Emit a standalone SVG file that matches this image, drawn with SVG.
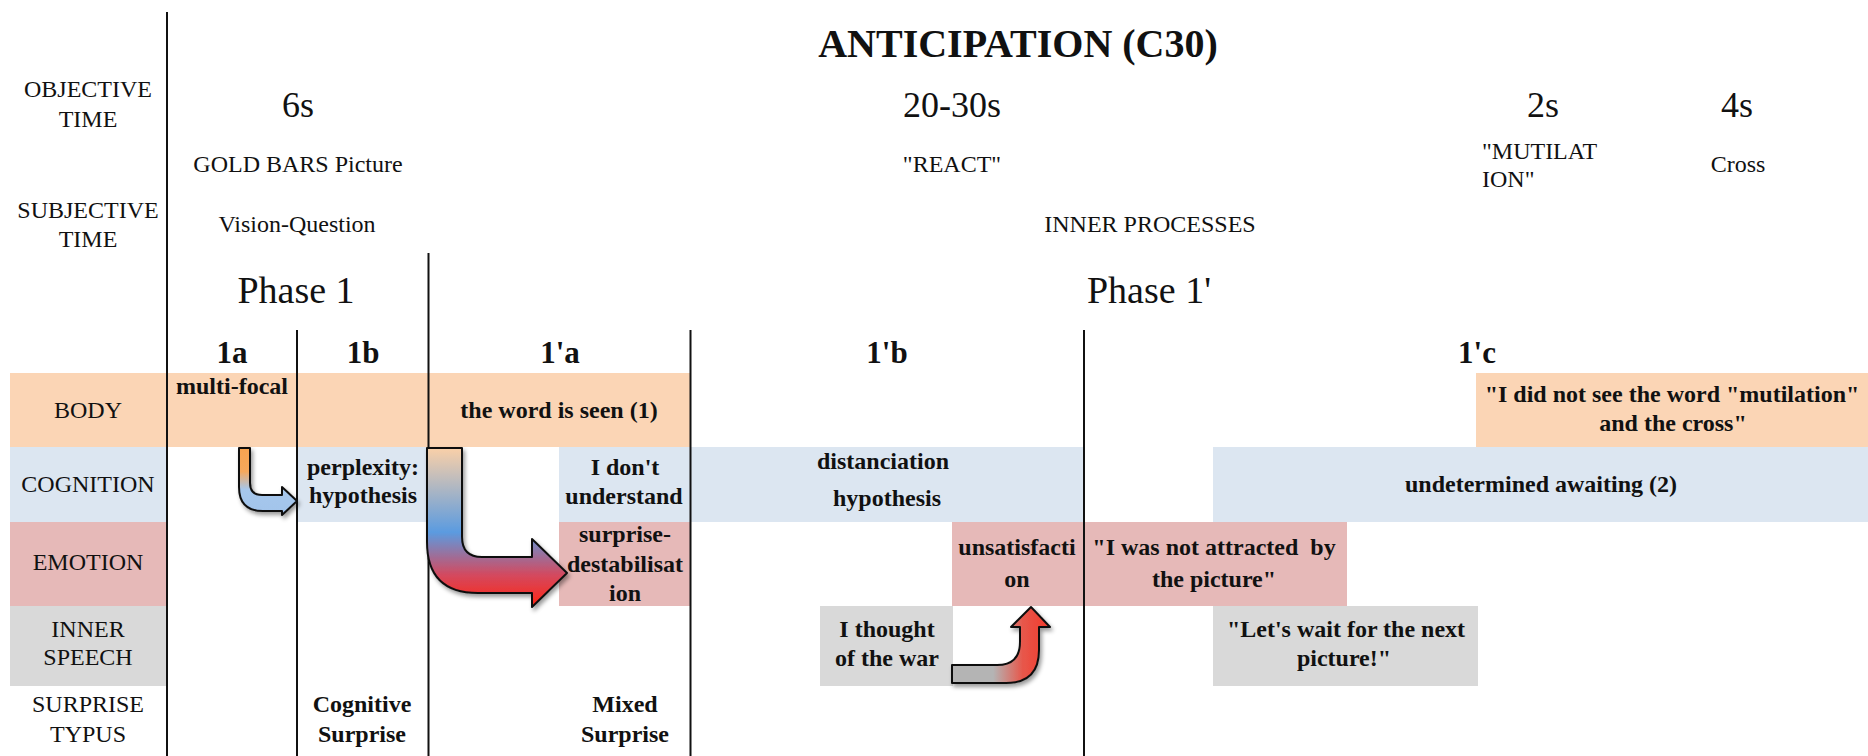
<svg xmlns="http://www.w3.org/2000/svg" width="1868" height="756" viewBox="0 0 1868 756">
<style>
text{font-family:"Liberation Serif","Times New Roman",serif;fill:#111;text-anchor:middle}
.lab{font-size:24px}
.hd{font-size:24px}
.big{font-size:36px}
.ph{font-size:38px}
.sec{font-size:31px;font-weight:bold}
.b{font-size:24px;font-weight:bold}
.title{font-size:40px;font-weight:bold}
.or{fill:#FBD5B5}
.bl{fill:#DCE6F1}
.pk{fill:#E6B9B8}
.gy{fill:#D9D9D9}
rect{shape-rendering:crispEdges}
.vl{stroke:#111;stroke-width:2}
.arr{stroke:#111;stroke-width:2;stroke-linejoin:round;filter:url(#sh)}
</style>
<defs>
<linearGradient id="g1" x1="0" y1="0" x2="0" y2="1">
<stop offset="0" stop-color="#F7A350"/>
<stop offset="0.35" stop-color="#F5A85C"/>
<stop offset="0.62" stop-color="#A6C7EC"/>
<stop offset="1" stop-color="#A2C4EB"/>
</linearGradient>
<linearGradient id="g2" x1="0" y1="0" x2="0" y2="1">
<stop offset="0" stop-color="#FAD0A8"/>
<stop offset="0.53" stop-color="#5B9BE0"/>
<stop offset="0.8" stop-color="#D4495E"/>
<stop offset="1" stop-color="#FF2412"/>
</linearGradient>
<linearGradient id="g3" x1="0" y1="0" x2="1" y2="0">
<stop offset="0" stop-color="#B4B4B4"/>
<stop offset="0.42" stop-color="#B4B4B4"/>
<stop offset="0.72" stop-color="#E7574B"/>
<stop offset="1" stop-color="#F3392A"/>
</linearGradient>
<filter id="sh" x="-20%" y="-20%" width="150%" height="150%">
<feDropShadow dx="2" dy="3" stdDeviation="2" flood-color="#000" flood-opacity="0.4"/>
</filter>
</defs>
<rect width="1868" height="756" fill="#fff"/>

<g id="header">
<text class="title" x="1018" y="57">ANTICIPATION (C30)</text>
<text class="lab" x="88" y="97">OBJECTIVE</text>
<text class="lab" x="88" y="127">TIME</text>
<text class="lab" x="88" y="218">SUBJECTIVE</text>
<text class="lab" x="88" y="247">TIME</text>
<text class="big" x="298" y="117">6s</text>
<text class="big" x="952" y="117">20-30s</text>
<text class="big" x="1543" y="117">2s</text>
<text class="big" x="1737" y="117">4s</text>
<text class="hd" x="298" y="172">GOLD BARS Picture</text>
<text class="hd" x="952" y="172">"REACT"</text>
<text class="hd" x="1482" y="159" style="text-anchor:start">"MUTILAT</text>
<text class="hd" x="1482" y="187" style="text-anchor:start">ION"</text>
<text class="hd" x="1738" y="172">Cross</text>
<text class="hd" x="297" y="232">Vision-Question</text>
<text class="hd" x="1150" y="232">INNER PROCESSES</text>
<text class="ph" x="296" y="303">Phase 1</text>
<text class="ph" x="1149" y="303">Phase 1'</text>
<text class="sec" x="232" y="363">1a</text>
<text class="sec" x="363" y="363">1b</text>
<text class="sec" x="560" y="363">1'a</text>
<text class="sec" x="887" y="363">1'b</text>
<text class="sec" x="1477" y="363">1'c</text>
</g>

<g id="row-labels">
<g id="lab-body"><rect class="or" x="10" y="373" width="157" height="74"/><text class="lab" x="88" y="418">BODY</text></g>
<g id="lab-cognition"><rect class="bl" x="10" y="447" width="157" height="75"/><text class="lab" x="88" y="492">COGNITION</text></g>
<g id="lab-emotion"><rect class="pk" x="10" y="522" width="157" height="84"/><text class="lab" x="88" y="570">EMOTION</text></g>
<g id="lab-speech"><rect class="gy" x="10" y="606" width="157" height="80"/><text class="lab" x="88" y="637">INNER</text><text class="lab" x="88" y="665">SPEECH</text></g>
<g id="lab-surprise"><text class="lab" x="88" y="712">SURPRISE</text><text class="lab" x="88" y="742">TYPUS</text></g>
</g>

<g id="n-multifocal"><rect class="or" x="167" y="373" width="130" height="74"/><text class="b" x="232" y="394">multi-focal</text></g>
<g id="n-body-1b"><rect class="or" x="297" y="373" width="131" height="74"/></g>
<g id="n-wordseen"><rect class="or" x="428" y="373" width="263" height="74"/><text class="b" x="559" y="418">the word is seen (1)</text></g>
<g id="n-didnotsee"><rect class="or" x="1476" y="373" width="392" height="74"/><text class="b" x="1672" y="402">"I did not see the word "mutilation"</text><text class="b" x="1673" y="431">and the cross"</text></g>

<g id="n-perplexity"><rect class="bl" x="297" y="447" width="131" height="75"/><text class="b" x="363" y="475">perplexity:</text><text class="b" x="363" y="503">hypothesis</text></g>
<g id="n-dontunderstand"><rect class="bl" x="559" y="447" width="132" height="75"/><text class="b" x="625" y="475">I don't</text><text class="b" x="624" y="504">understand</text></g>
<g id="n-distanciation"><rect class="bl" x="691" y="447" width="393" height="75"/><text class="b" x="883" y="469">distanciation</text><text class="b" x="887" y="506">hypothesis</text></g>
<g id="n-undetermined"><rect class="bl" x="1213" y="447" width="655" height="75"/><text class="b" x="1541" y="492">undetermined awaiting (2)</text></g>

<g id="n-destab"><rect class="pk" x="559" y="522" width="132" height="84"/><text class="b" x="625" y="542">surprise-</text><text class="b" x="625" y="572">destabilisat</text><text class="b" x="625" y="601">ion</text></g>
<g id="n-unsatisfaction"><rect class="pk" x="952" y="522" width="132" height="84"/><text class="b" x="1017" y="555">unsatisfacti</text><text class="b" x="1017" y="587">on</text></g>
<g id="n-notattracted"><rect class="pk" x="1084" y="522" width="263" height="84"/><text class="b" x="1214" y="555" xml:space="preserve">"I was not attracted  by</text><text class="b" x="1214" y="587">the picture"</text></g>

<g id="n-thought"><rect class="gy" x="820" y="606" width="133" height="80"/><text class="b" x="887" y="637">I thought</text><text class="b" x="887" y="666">of the war</text></g>
<g id="n-letswait"><rect class="gy" x="1213" y="606" width="265" height="80"/><text class="b" x="1346" y="637">"Let's wait for the next</text><text class="b" x="1344" y="666">picture!"</text></g>

<g id="n-cognitive-surprise"><text class="b" x="362" y="712">Cognitive</text><text class="b" x="362" y="742">Surprise</text></g>
<g id="n-mixed-surprise"><text class="b" x="625" y="712">Mixed</text><text class="b" x="625" y="742">Surprise</text></g>

<g id="grid">
<line class="vl" x1="167" y1="12" x2="167" y2="756"/>
<line class="vl" x1="428.5" y1="253" x2="428.5" y2="756"/>
<line class="vl" x1="297" y1="330" x2="297" y2="756"/>
<line class="vl" x1="690.5" y1="330" x2="690.5" y2="756"/>
<line class="vl" x1="1084" y1="330" x2="1084" y2="756"/>
</g>

<g id="connectors">
<path class="arr" fill="url(#g1)" d="M239,448 L250,448 L250,483 Q250,495 262,495 L282,495 L282,487 L297,501 L282,515 L282,511 L263,511 Q239,511 239,487 Z"/>
<path class="arr" fill="url(#g2)" d="M427,448 L462,448 L462,537 Q462,557 482,557 L532,557 L532,539 L567,573 L532,607 L532,593 L478,593 Q427,593 427,542 Z"/>
<path class="arr" fill="url(#g3)" d="M952,665 L997,665 Q1020,665 1020,642 L1020,627 L1011,627 L1031,607 L1050,627 L1039,627 L1039,650 Q1039,683 1006,683 L952,683 Z"/>
</g>
</svg>
